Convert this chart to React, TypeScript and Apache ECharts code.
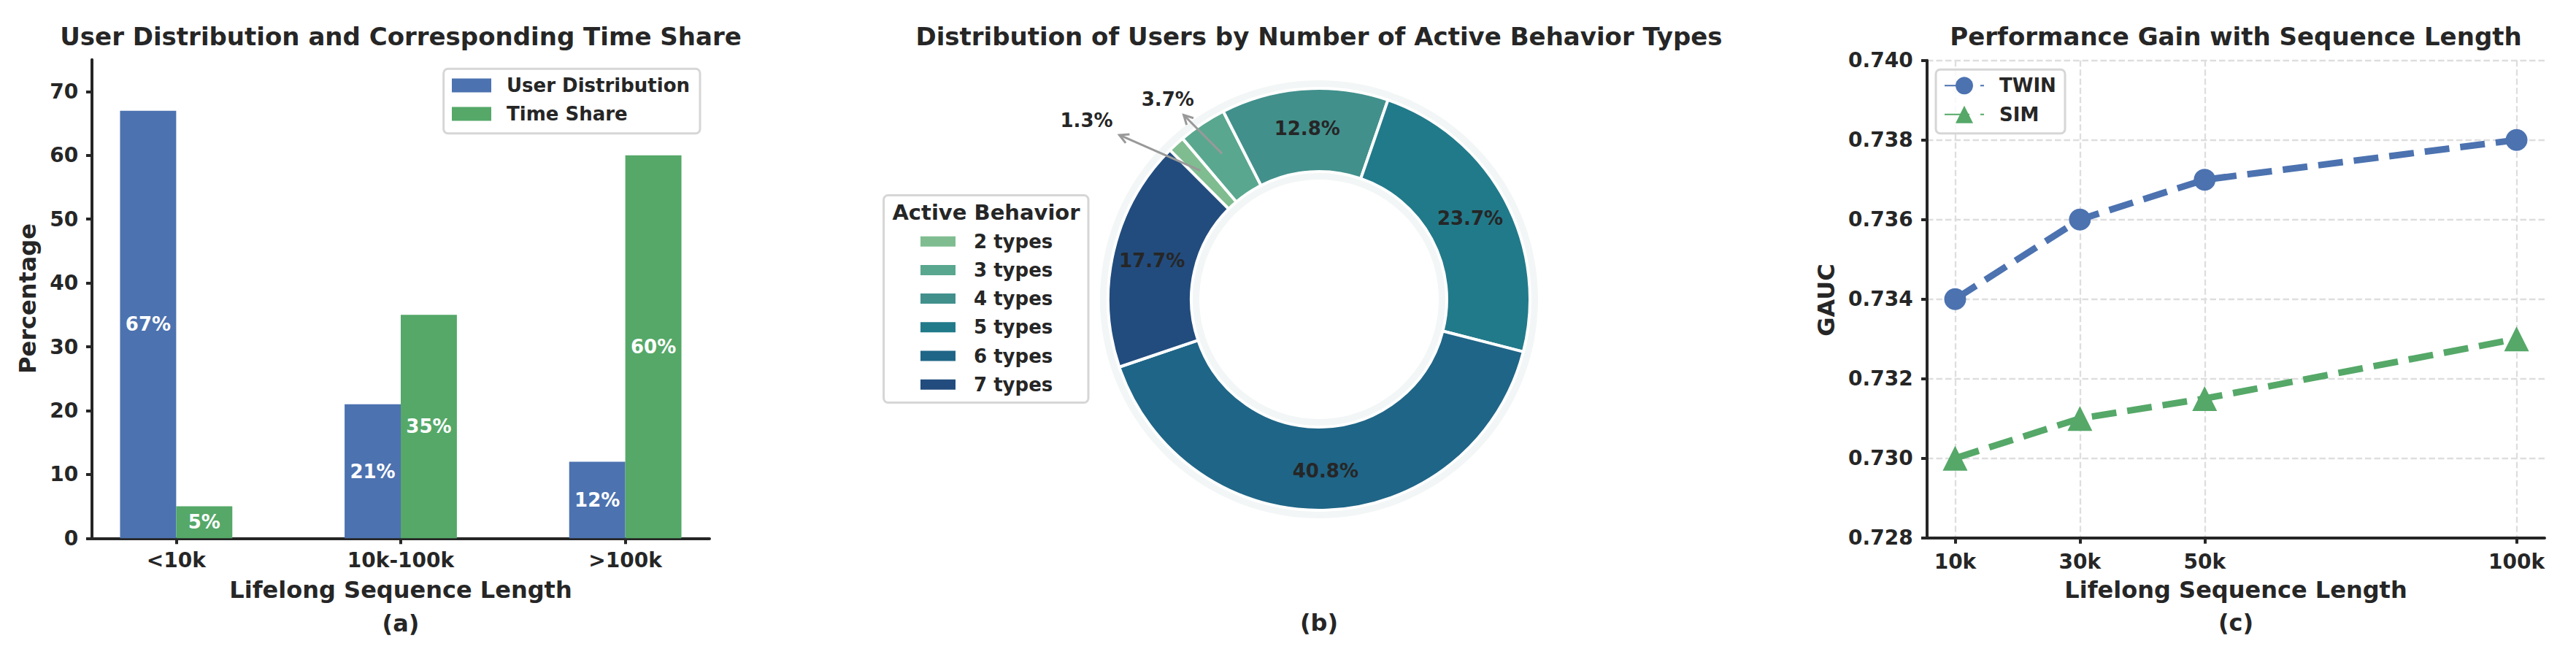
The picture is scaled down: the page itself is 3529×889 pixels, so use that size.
import React, { useEffect, useRef } from 'react';
import * as echarts from 'echarts';

// ---------- Panel (a) data ----------
const lengthCategories = ['<10k', '10k-100k', '>100k'];
const userDistribution = [67, 21, 12];
const timeShare = [5, 35, 60];
const percentTicks = [0, 10, 20, 30, 40, 50, 60, 70];

// ---------- Panel (b) data ----------
const behaviorTypes = ['2 types', '3 types', '4 types', '5 types', '6 types', '7 types'];
const behaviorShares = [1.3, 3.7, 12.8, 23.7, 40.8, 17.7];
const behaviorColors = ['#7fbd90', '#59a78f', '#41908c', '#217a8a', '#1f6587', '#224c7e'];

// ---------- Panel (c) data ----------
const seqLengths = [10, 30, 50, 100];
const seqLabels = ['10k', '30k', '50k', '100k'];
const twinGauc = [0.734, 0.736, 0.737, 0.738];
const simGauc = [0.73, 0.731, 0.7315, 0.733];

const FONT = '"DejaVu Sans"';
const TXT = '#262626';
const BLUE = '#4c72b0';
const GREEN = '#55a868';

// pie geometry (layout)
const PIE_CX = 1807;
const PIE_CY = 410;
const R_OUT = 289;
const R_IN = 175;
const START_ANGLE = 135;
const calloutLayout: Record<number, { r: number; da: number }> = {
  0: { r: 1.39, da: 9.8 },
  1: { r: 1.19, da: 3.4 },
};

function txt(x: number, y: number, text: string, size: number, extra: any = {}) {
  return {
    type: 'text',
    x,
    y,
    z: 10,
    silent: true,
    ...extra,
    style: {
      text,
      fill: TXT,
      font: `bold ${size}px ${FONT}`,
      align: 'center',
      verticalAlign: 'middle',
      textAlign: 'center',
      textVerticalAlign: 'middle',
    },
  };
}

function buildCallouts() {
  const total = behaviorShares.reduce((a, b) => a + b, 0);
  let cum = 0;
  const els: any[] = [];
  behaviorShares.forEach((v, i) => {
    const mid = START_ANGLE - ((cum + v / 2) / total) * 360;
    cum += v;
    const lay = calloutLayout[i];
    if (!lay) return;
    const rad = (mid * Math.PI) / 180;
    const p0 = [PIE_CX + 0.83 * R_OUT * Math.cos(rad), PIE_CY - 0.83 * R_OUT * Math.sin(rad)];
    const trad = ((mid + lay.da) * Math.PI) / 180;
    const t = [PIE_CX + lay.r * R_OUT * Math.cos(trad), PIE_CY - lay.r * R_OUT * Math.sin(trad)];
    const dx = t[0] - p0[0];
    const dy = t[1] - p0[1];
    const k = Math.min(45 / Math.abs(dx), 22 / Math.abs(dy));
    const end = [t[0] - k * dx, t[1] - k * dy];
    const len = Math.hypot(dx, dy);
    const ux = dx / len;
    const uy = dy / len;
    const L = 14;
    const th = (28 * Math.PI) / 180;
    const h1 = [end[0] - L * (ux * Math.cos(th) - uy * Math.sin(th)), end[1] - L * (ux * Math.sin(th) + uy * Math.cos(th))];
    const h2 = [end[0] - L * (ux * Math.cos(-th) - uy * Math.sin(-th)), end[1] - L * (ux * Math.sin(-th) + uy * Math.cos(-th))];
    els.push({
      type: 'line',
      z: 10,
      silent: true,
      shape: { x1: p0[0], y1: p0[1], x2: end[0], y2: end[1] },
      style: { stroke: '#999999', lineWidth: 3 },
    });
    els.push({
      type: 'polyline',
      z: 10,
      silent: true,
      shape: { points: [h1, end, h2] },
      style: { stroke: '#999999', lineWidth: 3, fill: null },
    });
    els.push(txt(t[0], t[1], `${v.toFixed(1)}%`, 26));
  });
  return els;
}

export default function App() {
  const ref = useRef<HTMLDivElement>(null);

  useEffect(() => {
    document.body.style.margin = '0';
    if (!ref.current) return;
    const chart = echarts.init(ref.current, undefined, { renderer: 'svg' });

    const frame = (x: number, y: number, w: number, h: number) => ({
      type: 'rect',
      z: 3,
      silent: true,
      shape: { x, y, width: w, height: h, r: 6 },
      style: { fill: 'rgba(255,255,255,0.8)', stroke: '#d6d6d6', lineWidth: 3 },
    });

    const axisLineStyle = { color: TXT, width: 4 };
    const tickLabel = { color: TXT, fontFamily: FONT, fontWeight: 'bold', fontSize: 28, lineHeight: 28 };
    const gridDash = { color: '#dedede', width: 2.3, type: [8.5, 4] };

    const option: any = {
      animation: false,
      textStyle: { fontFamily: FONT, fontWeight: 'bold', color: TXT },
      grid: [
        { left: 126, top: 81.7, width: 846, height: 655.6 },
        { left: 2640, top: 82.7, width: 846, height: 654 },
      ],
      xAxis: [
        {
          type: 'value',
          gridIndex: 0,
          min: -0.375,
          max: 2.375,
          splitLine: { show: false },
          axisLine: { show: true, onZero: false, lineStyle: axisLineStyle },
          axisTick: { show: true, length: 8, lineStyle: { color: TXT, width: 4 }, customValues: [0, 1, 2] },
          axisLabel: {
            ...tickLabel,
            margin: 16,
            customValues: [0, 1, 2],
            formatter: (v: number) => lengthCategories[Math.round(v)] ?? '',
          },
        },
        {
          type: 'value',
          gridIndex: 1,
          min: 5.5,
          max: 104.5,
          splitLine: { show: true, lineStyle: gridDash },
          axisLine: { show: true, onZero: false, lineStyle: axisLineStyle },
          axisTick: { show: true, length: 8, lineStyle: { color: TXT, width: 4 }, customValues: seqLengths },
          axisLabel: {
            ...tickLabel,
            margin: 19,
            customValues: seqLengths,
            formatter: (v: number) => seqLabels[seqLengths.indexOf(Math.round(v))] ?? '',
          },
        },
      ],
      yAxis: [
        {
          type: 'value',
          gridIndex: 0,
          min: 0,
          max: 75,
          splitLine: { show: false },
          axisLine: { show: true, onZero: false, lineStyle: axisLineStyle },
          axisTick: { show: true, length: 8, lineStyle: { color: TXT, width: 4 }, customValues: percentTicks },
          axisLabel: { ...tickLabel, margin: 18.7, customValues: percentTicks },
        },
        {
          type: 'value',
          gridIndex: 1,
          min: 0.728,
          max: 0.74,
          interval: 0.002,
          splitLine: { show: true, lineStyle: gridDash },
          axisLine: { show: true, onZero: false, lineStyle: axisLineStyle },
          axisTick: { show: true, length: 8, lineStyle: { color: TXT, width: 4 } },
          axisLabel: { ...tickLabel, margin: 19.3, formatter: (v: number) => v.toFixed(3) },
        },
      ],
      legend: [
        {
          data: ['User Distribution', 'Time Share'],
          orient: 'vertical',
          left: 619,
          top: 102,
          padding: 0,
          itemWidth: 54,
          itemHeight: 19,
          itemGap: 9,
          icon: 'rect',
          itemStyle: { borderWidth: 0 },
          textStyle: { color: TXT, fontFamily: FONT, fontWeight: 'bold', fontSize: 26, lineHeight: 30, padding: [0, 0, 0, 16] },
          selectedMode: false,
        },
        {
          data: behaviorTypes,
          orient: 'vertical',
          left: 1261,
          top: 315.7,
          padding: 0,
          itemWidth: 48,
          itemHeight: 14,
          itemGap: 9.2,
          icon: 'rect',
          itemStyle: { borderWidth: 0 },
          textStyle: { color: TXT, fontFamily: FONT, fontWeight: 'bold', fontSize: 26, lineHeight: 30, padding: [0, 0, 0, 20] },
          selectedMode: false,
        },
        {
          data: ['TWIN', 'SIM'],
          orient: 'vertical',
          left: 2663,
          top: 102.3,
          padding: 0,
          itemWidth: 54,
          itemHeight: 30,
          itemGap: 9.4,
          textStyle: { color: TXT, fontFamily: FONT, fontWeight: 'bold', fontSize: 26, lineHeight: 30, padding: [0, 0, 0, 16] },
          selectedMode: false,
        },
      ],
      series: [
        {
          type: 'bar',
          name: 'User Distribution',
          xAxisIndex: 0,
          yAxisIndex: 0,
          data: userDistribution.map((v, i) => [i, v]),
          barWidth: '25%',
          barGap: '0%',
          itemStyle: { color: BLUE },
          label: {
            show: true,
            position: 'inside',
            formatter: (p: any) => `${p.value[1]}%`,
            color: '#ffffff',
            fontFamily: FONT,
            fontWeight: 'bold',
            fontSize: 26,
          },
        },
        {
          type: 'bar',
          name: 'Time Share',
          xAxisIndex: 0,
          yAxisIndex: 0,
          data: timeShare.map((v, i) => [i, v]),
          barWidth: '25%',
          barGap: '0%',
          itemStyle: { color: GREEN },
          label: {
            show: true,
            position: 'inside',
            formatter: (p: any) => `${p.value[1]}%`,
            color: '#ffffff',
            fontFamily: FONT,
            fontWeight: 'bold',
            fontSize: 26,
          },
        },
        {
          type: 'pie',
          name: 'halo',
          silent: true,
          center: [PIE_CX, PIE_CY],
          radius: [R_IN - 11, R_OUT + 11],
          z: 1,
          label: { show: false },
          labelLine: { show: false },
          itemStyle: { color: '#f3f6f6' },
          data: [{ name: 'halo', value: 1 }],
        },
        {
          type: 'pie',
          name: 'Active Behavior',
          center: [PIE_CX, PIE_CY],
          radius: [R_IN, R_OUT],
          startAngle: START_ANGLE,
          clockwise: true,
          z: 2,
          avoidLabelOverlap: false,
          itemStyle: { borderColor: '#ffffff', borderWidth: 4 },
          labelLine: { show: false },
          label: {
            show: true,
            position: 'inside',
            color: TXT,
            fontFamily: FONT,
            fontWeight: 'bold',
            fontSize: 26,
            formatter: (p: any) => `${Number(p.value).toFixed(1)}%`,
          },
          data: behaviorTypes.map((name, i) => ({
            name,
            value: behaviorShares[i],
            itemStyle: { color: behaviorColors[i] },
            label: { show: behaviorShares[i] >= 5 },
          })),
        },
        {
          type: 'line',
          name: 'TWIN',
          xAxisIndex: 1,
          yAxisIndex: 1,
          data: seqLengths.map((x, i) => [x, twinGauc[i]]),
          symbol: 'circle',
          symbolSize: 30,
          lineStyle: { color: BLUE, width: 9, type: [34, 15] },
          itemStyle: { color: BLUE },
          z: 3,
        },
        {
          type: 'line',
          name: 'SIM',
          xAxisIndex: 1,
          yAxisIndex: 1,
          data: seqLengths.map((x, i) => [x, simGauc[i]]),
          symbol: 'triangle',
          symbolSize: 34,
          lineStyle: { color: GREEN, width: 9, type: [34, 15] },
          itemStyle: { color: GREEN },
          z: 3,
        },
      ],
      graphic: {
        elements: [
          frame(607.7, 94.3, 351.3, 88.4),
          frame(1210.6, 267.5, 280.4, 284),
          frame(2652, 95.3, 177, 87.4),
          txt(549, 49.5, 'User Distribution and Corresponding Time Share', 34),
          txt(1807, 49.5, 'Distribution of Users by Number of Active Behavior Types', 34),
          txt(3063, 50, 'Performance Gain with Sequence Length', 34),
          txt(549, 808, 'Lifelong Sequence Length', 32),
          txt(3063, 808, 'Lifelong Sequence Length', 32),
          txt(549, 854, '(a)', 32),
          txt(1807, 853, '(b)', 32),
          txt(3063, 853, '(c)', 32),
          txt(38, 409, 'Percentage', 32, { rotation: Math.PI / 2 }),
          txt(2502, 411, 'GAUC', 32, { rotation: Math.PI / 2 }),
          txt(1351, 290.7, 'Active Behavior', 29),
          ...buildCallouts(),
        ],
      },
    };

    chart.setOption(option);
    return () => chart.dispose();
  }, []);

  return <div ref={ref} style={{ width: 3529, height: 889 }} />;
}
